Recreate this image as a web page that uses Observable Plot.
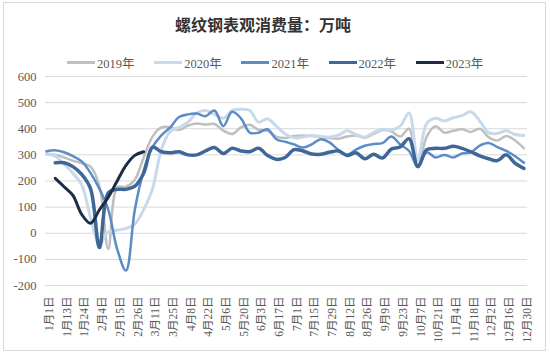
<!DOCTYPE html>
<html>
<head>
<meta charset="utf-8">
<script src="https://cdn.jsdelivr.net/npm/d3@7"></script>
<script src="https://cdn.jsdelivr.net/npm/@observablehq/plot@0.6"></script>
<style>
  html, body { margin: 0; padding: 0; background: #fff; }
  #frame { position: absolute; left: 3px; top: 2px; width: 541px; height: 347px; border: 1px solid #d9d9d9; }
  #title { position: absolute; left: 0; width: 526px; top: 12px; text-align: center;
           font-family: "Noto Sans CJK SC", sans-serif; font-weight: bold; font-size: 16px; color: #333; }
  .leg { position: absolute; top: 54px; height: 16px; display: flex; align-items: center;
         font-family: "Liberation Serif", "Noto Sans CJK SC", serif; font-size: 12.5px; color: #595959; }
  .leg span.sw { display: inline-block; width: 28px; height: 3px; margin-right: 2px; }
  #chart { position: absolute; left: 0; top: 70px; }
</style>
</head>
<body>
<div id="frame"></div>
<div id="title">螺纹钢表观消费量：万吨</div>
<div id="legend"></div>
<div id="chart"></div>
<script>
const labels = ["1月1日","1月13日","1月24日","2月4日","2月15日","2月26日","3月11日","3月25日","4月8日","4月22日","5月6日","5月20日","6月3日","6月17日","7月1日","7月15日","7月29日","8月12日","8月26日","9月9日","9月23日","10月7日","10月21日","11月4日","11月18日","12月2日","12月16日","12月30日"];
const yTicks = [-200, -100, 0, 100, 200, 300, 400, 500, 600];
const years = ["2019年", "2020年", "2021年", "2022年", "2023年"];
const colors = ["#bfbfbf", "#c8d9ec", "#5b8cc6", "#3e6798", "#1c2b47"];
const widths = [2.5, 3, 2.5, 3.5, 3];
const starts = [0, 0, 0, 1, 1];

const v2019 = [305,300,290,278,268,255,180,-60,175,178,205,290,370,405,406,395,412,420,416,418,393,380,405,415,396,392,370,365,372,374,372,368,365,362,370,374,366,380,395,390,370,400,255,370,410,385,392,398,388,400,368,355,372,355,325];
const v2020 = [302,295,265,230,185,60,-40,5,12,18,35,90,170,320,390,405,425,460,470,455,440,470,475,470,425,438,410,380,365,368,374,370,368,375,392,378,368,385,398,395,410,460,280,420,440,430,442,450,465,430,385,382,392,378,374];
const v2021 = [314,318,310,295,275,230,170,90,-60,-143,90,240,330,375,405,445,455,458,448,470,410,465,440,385,385,398,360,350,340,328,340,360,348,320,300,320,335,342,345,370,340,315,255,310,290,300,290,305,310,335,345,330,315,295,270];
const v2022 = [270,270,255,225,170,-55,155,168,168,180,230,330,312,308,312,300,300,315,328,305,325,315,312,325,298,283,290,320,315,303,302,310,315,298,308,285,302,288,322,330,362,255,320,325,325,333,325,312,296,285,278,300,268,248];
const v2023 = [210,178,145,72,38,90,138,200,260,298,312];
const series = [v2019, v2020, v2021, v2022, v2023];

const rows = series.flatMap((vals, s) => vals.map((v, i) => ({year: years[s], k: starts[s] + i, v})));
const xTicks = labels.map((_, j) => 2 * j + 0.34);

// legend
const legend = document.getElementById("legend");
years.forEach((yr, s) => {
  const d = document.createElement("div");
  d.className = "leg";
  d.style.left = (67 + s * 87.2) + "px";
  d.innerHTML = `<span class="sw" style="background:${colors[s]}"></span><span>${yr}</span>`;
  legend.appendChild(d);
});

const chart = Plot.plot({
  width: 550,
  height: 280,
  marginTop: 6,
  marginBottom: 65,
  marginLeft: 45,
  marginRight: 23,
  x: {domain: [-0.1, 54.4]},
  y: {domain: [-200, 600]},
  style: {fontFamily: "'Liberation Serif','Noto Sans CJK SC',serif", color: "#595959", background: "transparent"},
  marks: [
    Plot.gridY(yTicks, {stroke: "#d9d9d9", strokeOpacity: 1, strokeWidth: 1}),
    Plot.axisY(yTicks, {tickSize: 0, tickPadding: 9, fontSize: 12.5, label: null, tickFormat: d => String(d)}),
    Plot.axisX(xTicks, {tickSize: 0, tickPadding: 11, tickRotate: -90, fontSize: 11.5, label: null,
      tickFormat: d => labels[Math.round((d - 0.34) / 2)]}),
    ...years.map((yr, s) => Plot.line(rows.filter(r => r.year === yr), {
      x: "k", y: "v", stroke: colors[s], strokeWidth: widths[s], curve: "catmull-rom",
      strokeLinejoin: "round", strokeLinecap: "round"
    }))
  ]
});
document.getElementById("chart").appendChild(chart);
</script>
</body>
</html>
